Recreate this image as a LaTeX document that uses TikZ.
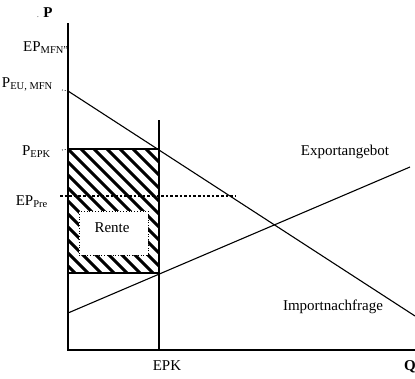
\documentclass[tikz,border=0pt]{standalone}
\usepackage{fontspec}
\setmainfont{Liberation Serif}
\tikzset{
  axis/.style={black, line width=1.4pt},
  curve/.style={black, line width=1.1pt},
  stripe/.style={black, line width=3pt},
  lbl/.style={font=\fontsize{15}{17}\selectfont, inner sep=0pt},
  tick/.style={black, dotted, line width=0.8pt},
}
\begin{document}
\begin{tikzpicture}[x=1pt,y=-1pt]
  \useasboundingbox (0,0) rectangle (415,378);
  % axes
  \coordinate (O) at (68,350);
  \coordinate (ytop) at (68,23);
  \coordinate (xend) at (415,350);
  \draw[axis] (ytop) -- (O) -- (xend);

  % hatched rent area
  \coordinate (rectA) at (68,149);
  \coordinate (rectB) at (159,273);
  \begin{scope}
    \clip (rectA) rectangle (rectB);
    \foreach \s in {-143,-130,...,100}
      \draw[stripe] (68+\s,149) -- ++(135,135);
  \end{scope}
  \draw[black, line width=1.1pt] (rectA) rectangle (rectB);

  % EPK quantity
  \coordinate (epkTop) at (159,120);
  \coordinate (epkBot) at (159,350);
  \draw[curve] (epkTop) -- (epkBot);

  % import demand and export supply
  \coordinate (imp0) at (68,91);
  \coordinate (imp1) at (415,316);
  \coordinate (exp0) at (68,313);
  \coordinate (exp1) at (410,167);
  \draw[curve] (imp0) -- (imp1);
  \draw[curve] (exp0) -- (exp1);

  % EP Pre
  \coordinate (preL) at (60,196);
  \coordinate (preR) at (235,196);
  \draw[black, line width=2.6pt, dash pattern=on 2.6pt off 2pt] (preL) -- (preR);

  % Rente box
  \node[lbl, draw, dotted, line width=0.8pt, fill=white, minimum width=69pt, minimum height=44pt] (rente) at (113.5,233) {};
  \node[lbl] (renteTxt) at (112,228) {Rente};

  % ticks
  \coordinate (tEPK) at (62,150);
  \coordinate (tEU) at (62,90);
  \draw[tick] (tEPK) -- (rectA);
  \draw[tick] (tEU) -- (imp0);

  % labels
  \node[lbl, anchor=base] (pAxis) at (48,17) {\textbf{P}};
  \node[lbl, anchor=base east] (pDot) at (39,17) {\fontsize{7}{7}\selectfont.};
  \node[lbl, anchor=base west] (epMFN) at (23,51) {EP\textsubscript{MFN''}};
  \node[lbl, anchor=base east] (pEU) at (53,87) {P\textsubscript{EU, MFN}};
  \node[lbl, anchor=base east] (pEPK) at (51,155) {P\textsubscript{EPK}};
  \node[lbl, anchor=base east] (epPre) at (48,205) {EP\textsubscript{Pre}};
  \node[lbl, anchor=base] (expLbl) at (345,155) {Exportangebot};
  \node[lbl, anchor=base] (impLbl) at (333,310) {Importnachfrage};
  \node[lbl, anchor=base] (epkLbl) at (167,370) {EPK};
  \node[lbl, anchor=base] (qLbl) at (410,370) {\textbf{Q}};
\end{tikzpicture}
\end{document}
